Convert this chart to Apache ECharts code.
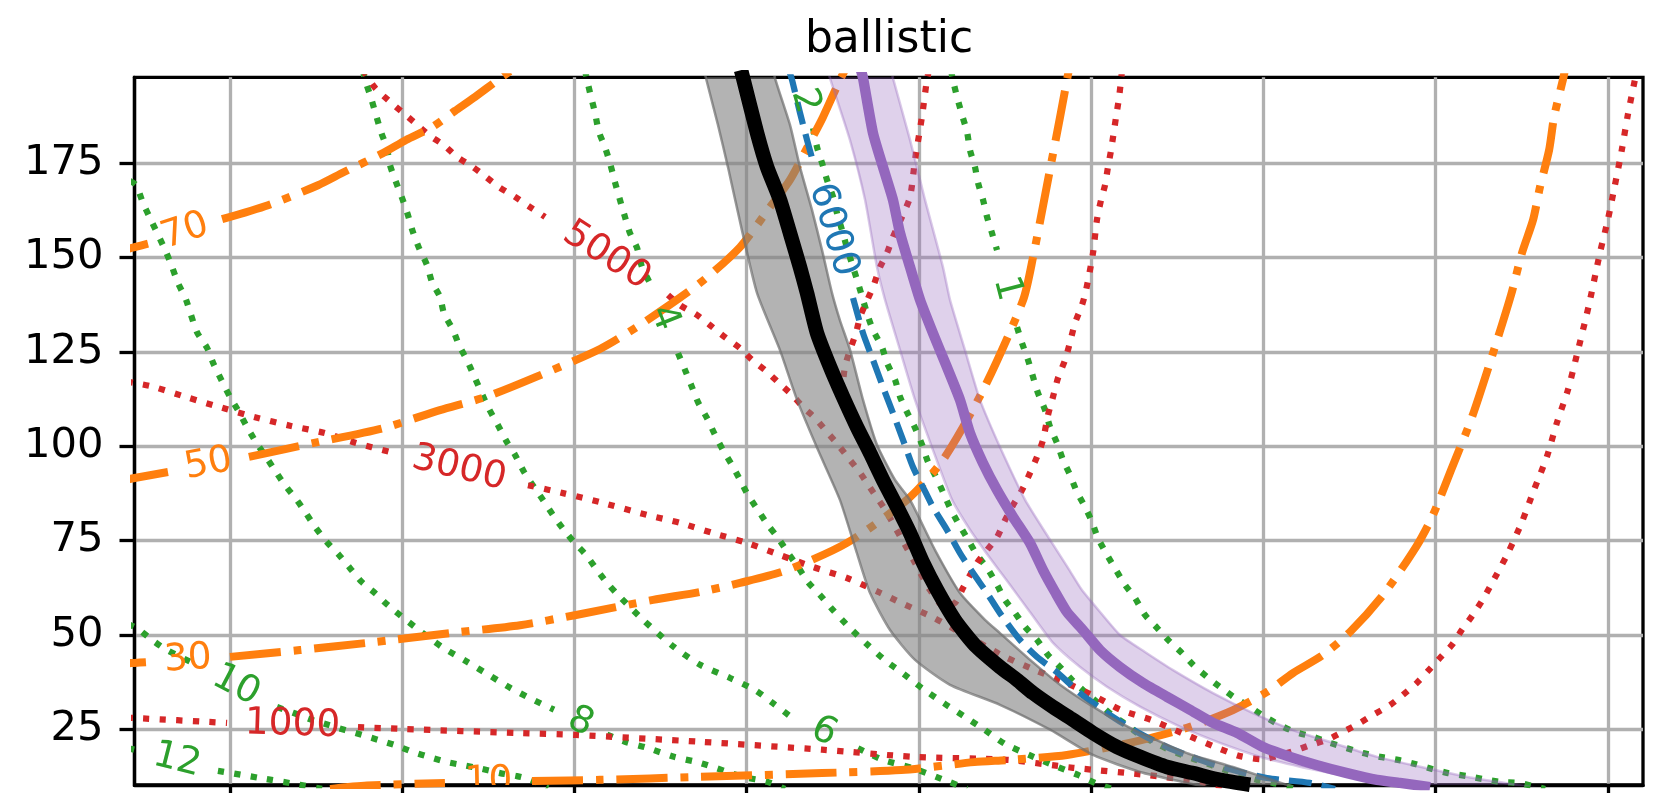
<!DOCTYPE html>
<html><head><meta charset="utf-8">
<script src="https://cdn.jsdelivr.net/npm/echarts@6/dist/echarts.min.js"></script>
<style>html,body{margin:0;padding:0;background:#fff}#c{width:1656px;height:793px}</style>
</head><body><div id="c"></div>
<script>
// ---- tick positions ----
const xTicks = [1,2,3,4,5,6,7,8,9];
const yTicks = [25,50,75,100,125,150,175];

// ---- contour lines (null = inline label gap) ----
const green12 = [[0.408,20.0],[0.454,19.5],null,[0.930,14.0],[1.174,12.1],[1.406,10.3],[1.534,9.2]];
const green10 = [[0.408,52.9],[0.460,51.8],[0.547,48.7],[0.634,46.0],[0.797,42.3],null,[1.273,30.9],[1.366,29.4],[1.476,27.5],[1.569,26.2],[1.668,24.8],[1.766,23.5],[1.859,22.2],[1.958,20.8],[2.063,19.0],[2.161,17.6],[2.260,16.3],[2.353,15.5],[2.463,14.5],[2.568,13.4],[2.666,12.6],[2.748,11.6],[2.846,9.4]];
const green8 = [[0.419,170.3],[0.454,169.3],[0.495,164.5],[0.541,160.0],[0.623,152.1],[0.663,147.6],[0.698,143.3],[0.745,138.8],[0.808,130.3],[0.867,126.1],[0.907,121.6],[1.000,113.1],[1.052,109.1],[1.099,105.1],[1.151,101.1],[1.209,97.2],[1.267,93.2],[1.319,89.7],[1.389,85.7],[1.441,82.3],[1.499,78.3],[1.563,74.6],[1.633,71.2],[1.697,67.7],[1.766,64.0],[1.842,61.1],[1.917,57.9],[2.074,52.1],[2.231,46.8],[2.376,42.9],[2.510,39.2],[2.626,36.0],[2.748,33.1],[2.881,30.2],null,[3.189,23.6],[3.293,21.7],[3.421,20.1],[3.578,17.7],[3.729,16.1],[3.978,12.4],[4.118,11.1],[4.222,9.2]];
const green6 = [[1.772,199.7],[1.784,197.1],[1.819,192.3],[1.877,183.3],[1.911,179.0],[1.929,174.5],[1.964,170.0],[1.999,165.8],[2.033,161.3],[2.062,156.8],[2.097,152.6],[2.144,148.0],[2.173,143.5],[2.219,139.6],[2.242,135.3],[2.295,130.8],[2.330,126.8],[2.376,122.8],[2.422,118.1],[2.498,110.4],[2.556,105.6],[2.608,101.1],[2.655,97.7],[2.707,93.2],[2.765,89.2],[2.817,85.8],[2.875,81.8],[2.939,77.8],[2.997,74.6],[3.067,71.2],[3.131,67.2],[3.189,63.8],[3.253,60.6],[3.398,54.0],[3.578,46.8],[3.729,42.1],[3.903,38.6],[4.048,35.4],[4.153,31.9],[4.251,28.5],null,[4.646,20.0],[4.791,16.9],[4.965,14.7],[5.180,11.0],[5.279,9.2]];
const green4 = [[3.061,199.7],[3.073,197.1],[3.096,192.6],[3.119,188.4],[3.142,183.3],[3.177,179.3],[3.206,175.1],[3.235,170.0],[3.264,165.3],[3.293,160.8],[3.322,156.5],[3.363,152.6],[3.392,147.5],[3.438,143.3],null,[3.601,124.7],[3.642,120.2],[3.682,115.7],[3.717,111.7],[3.769,107.5],[3.816,103.0],[3.862,99.0],[3.915,95.0],[3.961,91.1],[4.007,87.1],[4.065,83.1],[4.124,79.1],[4.182,75.7],[4.240,71.7],[4.298,68.0],[4.356,64.0],[4.425,60.6],[4.501,56.6],[4.600,51.8],[4.704,47.3],[4.803,43.3],[4.913,39.6],[5.018,35.9],[5.145,31.9],[5.261,28.5],[5.383,24.8],[5.500,21.1],[5.639,18.2],[5.790,15.3],[5.923,12.9],[6.022,10.8],[6.121,9.2]];
const green2 = [[4.269,202.0],[4.292,198.8],null,[4.385,184.3],[4.408,179.3],[4.437,175.1],[4.466,170.6],[4.501,166.1],[4.524,161.8],[4.553,157.3],[4.582,152.6],[4.617,147.5],[4.646,143.3],[4.698,135.3],[4.733,130.8],[4.785,126.3],[4.814,122.1],[4.861,117.6],[4.890,113.1],[4.930,109.1],[4.977,104.9],[5.018,100.4],[5.052,95.9],[5.093,92.4],[5.139,87.9],[5.180,83.7],[5.227,79.7],[5.279,75.7],[5.337,71.2],[5.395,67.8],[5.453,63.3],[5.499,59.3],[5.557,55.9],[5.616,52.1],[5.685,48.7],[5.749,44.7],[5.819,41.5],[5.888,38.1],[5.964,34.9],[6.039,32.0],[6.121,28.8],[6.208,26.1],[6.283,23.5],[6.370,21.4],[6.457,19.5],[6.556,17.7],[6.649,16.3],[6.748,14.7],[6.864,12.9],[6.962,11.6],[7.055,10.8],[7.183,9.2]];
const green1 = [[5.186,199.7],[5.197,197.1],[5.221,192.6],[5.250,187.8],[5.279,183.3],[5.296,178.5],[5.325,174.0],[5.343,169.8],[5.372,165.3],[5.395,160.8],[5.424,156.5],[5.453,152.0],null,[5.569,131.6],[5.598,127.4],[5.633,122.9],[5.662,118.4],[5.691,114.1],[5.732,109.6],[5.761,105.1],[5.801,100.9],[5.836,96.4],[5.877,92.4],[5.917,87.9],[5.964,83.9],[6.005,79.9],[6.039,75.7],[6.092,71.2],[6.144,67.2],[6.196,63.3],[6.254,59.8],[6.312,55.3],[6.382,51.9],[6.446,48.7],[6.527,45.2],[6.591,42.1],[6.672,38.9],[6.748,36.2],[6.835,33.3],[6.922,30.9],[7.009,28.3],[7.096,26.1],[7.183,24.3],[7.288,23.0],[7.386,21.4],[7.485,20.0],[7.578,18.7],[7.677,17.7],[7.781,16.9],[7.880,15.8],[7.979,14.5],[8.071,13.4],[8.182,12.6],[8.275,11.8],[8.385,11.0],[8.478,10.8],[8.635,9.2]];

const orange70 = [[0.400,152.2],[0.446,152.8],[0.524,153.7],null,[0.954,160.2],[1.221,163.9],[1.511,169.2],[1.662,172.7],[1.888,177.7],[2.022,181.2],[2.173,184.6],[2.306,188.9],[2.422,192.6],[2.562,197.3],[2.625,199.4]];
const orange50 = [[0.400,91.2],[0.446,91.6],[0.640,93.2],null,[1.110,97.2],[1.488,100.9],[1.888,104.8],[2.219,109.6],[2.486,113.1],[2.777,118.4],[3.148,125.8],[3.398,132.7],[3.729,143.3],[3.961,152.8],[4.135,163.4],[4.251,170.6],[4.367,180.6],[4.443,187.3],[4.541,197.1],[4.570,199.7]];
const orange30 = [[0.400,42.5],[0.446,42.6],[0.512,42.8],null,[1.000,44.2],[1.406,46.0],[1.795,47.9],[2.277,50.5],[2.684,52.6],[3.009,55.3],[3.456,59.3],[3.729,61.4],[3.961,63.8],[4.234,67.2],[4.582,74.4],[4.930,85.8],[5.139,96.4],[5.372,114.9],[5.604,138.7],[5.662,150.1],[5.743,169.2],[5.819,187.3],[5.859,197.1],[5.870,199.7]];
const orange10 = [[1.581,9.2],[1.795,10.1],[2.248,10.8],null,[2.753,11.3],[3.148,11.6],[3.729,12.4],[4.437,13.4],[4.896,14.2],[5.320,16.3],[5.528,16.9],[5.859,18.2],[6.242,21.6],[6.556,25.4],[6.823,30.1],[7.020,34.9],[7.171,39.9],[7.345,44.7],[7.502,50.8],[7.694,60.6],[7.885,73.3],[7.978,81.2],[8.089,93.7],[8.211,107.8],[8.338,125.5],[8.437,140.1],[8.501,151.3],[8.565,160.0],[8.605,168.7],[8.658,178.5],[8.687,187.3],[8.739,197.3],[8.750,199.7]];

const red1000 = [[0.400,28.1],[0.446,28.0],[0.983,26.7],null,[1.743,25.6],[2.004,25.1],[2.684,24.0],[3.009,23.5],[3.729,21.7],[4.437,19.6],[4.965,17.7],[5.511,16.9],[5.894,14.8],[6.324,12.9],[6.632,11.1],[6.806,9.5]];
const red3000 = [[0.400,117.2],[0.446,116.8],[0.553,115.8],[0.756,112.9],[0.954,110.2],[1.139,107.8],[1.354,105.4],[1.552,103.5],[1.732,100.9],[1.929,98.5],null,[2.730,89.7],[2.933,87.6],[3.148,85.2],[3.421,81.8],[3.613,79.7],[3.804,77.0],[4.001,74.4],[4.193,71.2],[4.385,68.0],[4.582,65.1],[4.774,61.2],[4.896,58.5],[5.076,54.8],[5.215,51.3],[5.395,46.8],[5.499,44.2],[5.674,40.7],[5.854,37.3],[6.028,33.6],[6.173,30.1],[6.347,27.5],[6.527,24.0],[6.736,20.0],[6.864,17.9],[6.991,17.1],[7.171,19.2],[7.270,20.8],[7.368,22.2],[7.461,24.3],[7.560,26.7],[7.635,28.8],[7.734,31.4],[7.809,34.1],[7.890,37.3],[7.954,40.4],[8.024,43.9],[8.093,47.3],[8.151,51.3],[8.210,55.0],[8.268,59.0],[8.314,62.7],[8.419,71.7],[8.500,79.9],[8.570,88.4],[8.645,97.2],[8.703,106.2],[8.767,114.9],[8.819,124.2],[8.889,137.4],[8.953,151.2],[8.999,160.0],[9.040,169.2],[9.080,178.5],[9.115,187.8],[9.156,197.1],[9.167,199.7]];
const red5000 = [[1.772,199.7],[1.842,195.0],[1.917,191.8],[1.999,188.6],[2.074,185.7],[2.155,182.5],[2.242,179.8],[2.318,176.7],[2.411,174.0],[2.486,171.4],[2.562,168.7],[2.655,166.1],[2.742,163.4],[2.829,160.8],null,[3.543,140.1],[3.613,137.4],[3.711,134.8],[3.787,132.1],[3.874,128.9],[3.961,126.0],[4.031,122.9],[4.106,120.2],[4.182,117.0],[4.263,113.6],[4.327,110.4],[4.396,107.5],[4.466,103.8],[4.530,100.4],[4.599,96.4],[4.658,93.0],[4.716,89.0],[4.803,83.2],[4.890,76.2],[4.977,69.1],[5.064,61.9],[5.151,57.4],[5.209,58.5],[5.256,62.5],[5.337,69.1],[5.395,72.5],[5.453,75.9],[5.499,80.4],[5.546,84.4],[5.598,88.4],[5.644,92.9],[5.685,97.2],[5.720,101.7],[5.749,108.3],[5.778,113.1],[5.807,118.1],[5.848,122.9],[5.877,127.6],[5.906,132.7],[5.946,137.4],[5.970,141.4],[6.010,151.2],[6.033,160.0],[6.057,165.3],[6.080,169.2],[6.097,174.0],[6.115,178.5],[6.144,187.3],[6.161,192.3],[6.173,197.1],[6.179,199.7]];
const red7000 = [[5.058,199.7],[5.046,197.1],[5.017,187.3],[4.977,175.9],[4.948,166.1],[4.901,160.8],[4.849,155.5],[4.814,151.2],[4.774,147.5],[4.733,142.2],[4.692,138.0],[4.658,134.3],[4.634,130.0],[4.599,125.5],[4.570,121.0],[4.556,116.3],[4.540,113.0]];
const blue6000 = [[4.245,199.7],[4.263,197.1],[4.309,188.4],[4.350,181.2],[4.385,175.4],null,[4.617,139.3],[4.675,130.0],[4.733,122.9],[4.791,115.7],[4.849,108.8],[4.907,101.7],[4.965,94.5],[5.023,89.2],[5.081,83.9],[5.163,77.8],[5.238,71.7],[5.314,66.4],[5.395,61.1],[5.470,55.8],[5.586,48.7],[5.685,44.2],[5.807,39.9],[5.935,34.6],[6.092,29.3],[6.266,24.3],[6.440,20.3],[6.631,16.9],[6.823,14.2],[7.020,12.1],[7.270,10.8],[7.415,9.2]];

// ---- trajectories and their bands ----
const blackLine = [[3.967,199.7],[3.979,197.6],[4.060,183.0],[4.118,174.0],[4.193,165.3],[4.251,156.5],[4.309,147.5],[4.350,140.6],[4.408,130.0],[4.484,121.0],[4.559,113.1],[4.640,105.1],[4.716,98.2],[4.791,91.1],[4.873,83.9],[4.948,77.0],[5.024,69.1],[5.105,61.9],[5.209,53.9],[5.325,47.3],[5.471,41.5],[5.569,38.1],[5.662,34.6],[5.778,30.9],[5.894,27.5],[6.011,24.0],[6.150,20.3],[6.283,17.7],[6.440,15.0],[6.591,13.4],[6.748,11.6],[6.922,10.3]];
const grayLo = [[3.740,202.3],[3.763,197.6],[3.833,185.2],[3.891,174.0],[3.972,157.3],[4.060,140.6],[4.193,125.5],[4.292,112.3],[4.414,99.0],[4.541,85.8],[4.634,72.5],[4.716,61.1],[4.832,51.3],[4.977,43.4],[5.180,36.8],[5.470,31.5],[5.761,24.9],[6.010,18.2],[6.283,13.7],[6.556,10.8],[6.748,8.9]];
const grayHi = [[4.147,202.3],[4.164,197.6],[4.251,185.2],[4.309,174.0],[4.379,162.6],[4.437,152.0],[4.495,140.6],[4.541,133.4],[4.600,125.5],[4.675,112.3],[4.756,100.4],[4.861,91.1],[4.948,85.8],[5.093,72.5],[5.238,61.1],[5.383,54.0],[5.470,50.5],[5.645,43.4],[5.819,36.8],[6.010,31.0],[6.225,25.4],[6.556,18.7],[6.823,15.0],[7.154,10.0],[7.212,8.9]];
const purpleLine = [[4.663,199.7],[4.675,197.6],[4.733,183.0],[4.791,174.0],[4.849,165.3],[4.890,156.5],[4.948,147.5],[5.006,138.8],[5.081,130.0],[5.162,121.0],[5.238,112.3],[5.296,103.5],[5.371,95.6],[5.453,88.4],[5.546,81.3],[5.644,74.4],[5.720,67.2],[5.790,61.4],[5.859,56.1],[5.952,51.3],[6.051,46.0],[6.167,41.5],[6.300,37.3],[6.440,33.6],[6.573,30.2],[6.707,26.7],[6.846,24.1],[6.997,20.3],[7.154,17.7],[7.311,15.5],[7.485,13.4],[7.659,11.6],[7.792,10.8],[7.967,9.7]];
const purpleLo = [[4.472,199.7],[4.483,197.6],[4.599,181.2],[4.687,165.3],[4.756,147.5],[4.803,138.8],[4.890,125.5],[4.977,112.3],[5.075,99.8],[5.192,85.8],[5.296,77.9],[5.412,70.4],[5.528,63.3],[5.644,56.1],[5.778,47.9],[5.935,41.5],[6.091,36.3],[6.283,31.0],[6.515,25.7],[6.747,21.4],[6.980,17.7],[7.212,15.1],[7.444,13.0],[7.676,11.1],[7.909,9.8],[8.025,8.9]];
const purpleHi = [[4.838,199.7],[4.849,197.6],[4.948,181.2],[5.035,165.3],[5.139,147.5],[5.180,138.8],[5.267,125.5],[5.354,112.3],[5.470,99.8],[5.616,85.8],[5.761,75.2],[5.865,67.8],[5.946,61.9],[6.051,56.1],[6.167,50.0],[6.312,45.5],[6.475,40.7],[6.707,34.6],[6.939,29.3],[7.171,24.8],[7.404,21.4],[7.659,17.7],[7.909,15.1],[8.199,12.2],[8.547,9.8],[8.634,8.9]];

// ---- styling ----
const C = {green:'#2ca02c', red:'#d62728', orange:'#ff7f0e', blue:'#1f77b4', purple:'#9467bd'};
const DOT = [6.25, 10.3], DASHDOT = [51, 12.8, 8, 12.8], DASH = [23, 10];
const contours = [
  {pts:green12, text:'12', color:C.green, w:6.25, dash:DOT},
  {pts:green10, text:'10', color:C.green, w:6.25, dash:DOT},
  {pts:green8, text:'8', color:C.green, w:6.25, dash:DOT},
  {pts:green6, text:'6', color:C.green, w:6.25, dash:DOT},
  {pts:green4, text:'4', color:C.green, w:6.25, dash:DOT},
  {pts:green2, text:'2', color:C.green, w:6.25, dash:DOT},
  {pts:green1, text:'1', color:C.green, w:6.25, dash:DOT},
  {pts:red1000, text:'1000', color:C.red, w:6.25, dash:DOT},
  {pts:red3000, text:'3000', color:C.red, w:6.25, dash:DOT},
  {pts:red5000, text:'5000', color:C.red, w:6.25, dash:DOT},
  {pts:red7000, text:null, color:C.red, w:6.25, dash:DOT},
  {pts:orange70, text:'70', color:C.orange, w:8, dash:DASHDOT},
  {pts:orange50, text:'50', color:C.orange, w:8, dash:DASHDOT},
  {pts:orange30, text:'30', color:C.orange, w:8, dash:DASHDOT},
  {pts:orange10, text:'10', color:C.orange, w:8, dash:DASHDOT},
  {pts:blue6000, text:'6000', color:C.blue, w:6.25, dash:DASH}
];
const toData = p => p === null ? ['-','-'] : p;
const series = [];
contours.forEach(c => series.push({
  type:'line', data:c.pts.map(toData), symbol:'none', smooth:0.25, connectNulls:false, silent:true, z:2,
  lineStyle:{color:c.color, width:c.w, type:c.dash, cap:'butt', join:'round'}
}));
const labelItems = contours.filter(c => c.text).map(c => {
  const k = c.pts.indexOf(null);
  return {a:c.pts[k-1], b:c.pts[k+1], text:c.text, color:c.color};
});
series.push({
  type:'custom', clip:true, silent:true, z:3,
  data: labelItems.map((l,i) => [(l.a[0]+l.b[0])/2, (l.a[1]+l.b[1])/2, i]),
  renderItem: (params, api) => {
    const l = labelItems[api.value(2)];
    const p1 = api.coord(l.a), p2 = api.coord(l.b);
    let ang = Math.atan2(-(p2[1]-p1[1]), p2[0]-p1[0]);
    if (ang > Math.PI/2) ang -= Math.PI;
    if (ang < -Math.PI/2) ang += Math.PI;
    return {type:'text', x:(p1[0]+p2[0])/2, y:(p1[1]+p2[1])/2, rotation:ang,
      style:{text:l.text, fill:l.color, font:'37.5px "DejaVu Sans"', align:'center', verticalAlign:'middle'}};
  }
});
function band(lo, hi, fill, edge) {
  const mid = lo[Math.floor(lo.length/2)];
  series.push({
    type:'custom', clip:true, silent:true, z:4, data:[mid],
    renderItem: (params, api) => {
      const pts = lo.map(q => api.coord(q)).concat(hi.slice().reverse().map(q => api.coord(q)));
      return {type:'polygon', shape:{points:pts}, style:{fill}};
    }
  });
  [lo, hi].forEach(e => series.push({type:'line', data:e, symbol:'none', smooth:0.2, silent:true, z:4,
    lineStyle:{color:edge, width:2.5}}));
}
band(grayLo, grayHi, 'rgba(128,128,128,0.6)', 'rgba(110,110,110,0.7)');
band(purpleLo, purpleHi, 'rgba(148,103,189,0.3)', 'rgba(148,103,189,0.35)');
series.push({type:'line', data:blackLine, symbol:'none', smooth:0.2, silent:true, z:5, lineStyle:{color:'#000', width:14.5, join:'round'}});
series.push({type:'line', data:purpleLine, symbol:'none', smooth:0.2, silent:true, z:5, lineStyle:{color:C.purple, width:10.4, join:'round'}});

const axisLineStyle = {color:'#000', width:3.3};
const chart = echarts.init(document.getElementById('c'));
chart.setOption({
  animation:false,
  backgroundColor:'#fff',
  title:{text:'ballistic', left:889, top:19, textAlign:'center', padding:0,
    textStyle:{fontSize:44, fontFamily:'DejaVu Sans', fontWeight:'normal', color:'#000'}},
  grid:{left:134.5, top:77.3, right:13, bottom:8, show:true, borderColor:'#000', borderWidth:3.3, backgroundColor:'transparent'},
  xAxis:{type:'value', min:0.4456, max:9.2032,
    axisLine:{show:true, onZero:false, lineStyle:axisLineStyle},
    axisTick:{show:true, length:15, lineStyle:axisLineStyle, customValues:xTicks},
    axisLabel:{show:false, customValues:xTicks},
    splitLine:{show:true, lineStyle:{color:'#b0b0b0', width:3.3}}},
  yAxis:{type:'value', min:10.24, max:197.8,
    axisLine:{show:true, onZero:false, lineStyle:axisLineStyle},
    axisTick:{show:true, length:15, lineStyle:axisLineStyle, customValues:yTicks},
    axisLabel:{show:true, customValues:yTicks, fontSize:41.7, fontFamily:'DejaVu Sans', color:'#000', margin:31},
    splitLine:{show:true, lineStyle:{color:'#b0b0b0', width:3.3}}},
  series
});
</script></body></html>
